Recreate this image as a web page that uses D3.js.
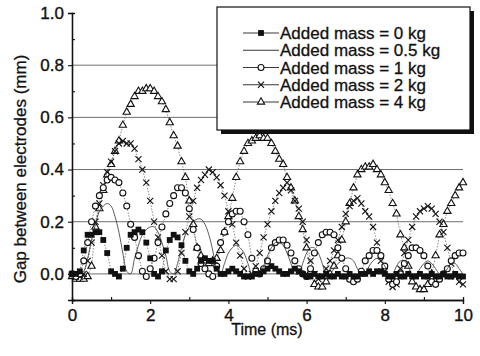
<!DOCTYPE html>
<html>
<head>
<meta charset="utf-8">
<script src="https://cdn.jsdelivr.net/npm/d3@7"></script>
<style>
  body { margin: 0; background: #fff; }
  svg { display: block; font-family: "Liberation Sans", Arial, sans-serif; }
</style>
</head>
<body>
<div id="chart"></div>
<script>
// time samples (ms), shared by all series
const times = [
    0, 0.1, 0.2, 0.3, 0.4, 0.5, 0.6, 0.7, 0.8, 0.9,
    1, 1.1, 1.2, 1.3, 1.4, 1.5, 1.6, 1.7, 1.8, 1.9,
    2, 2.1, 2.2, 2.3, 2.4, 2.5, 2.6, 2.7, 2.8, 2.9,
    3, 3.1, 3.2, 3.3, 3.4, 3.5, 3.6, 3.7, 3.8, 3.9,
    4, 4.1, 4.2, 4.3, 4.4, 4.5, 4.6, 4.7, 4.8, 4.9,
    5, 5.1, 5.2, 5.3, 5.4, 5.5, 5.6, 5.7, 5.8, 5.9,
    6, 6.1, 6.2, 6.3, 6.4, 6.5, 6.6, 6.7, 6.8, 6.9,
    7, 7.1, 7.2, 7.3, 7.4, 7.5, 7.6, 7.7, 7.8, 7.9,
    8, 8.1, 8.2, 8.3, 8.4, 8.5, 8.6, 8.7, 8.8, 8.9,
    9, 9.1, 9.2, 9.3, 9.4, 9.5, 9.6, 9.7, 9.8, 9.9,
    10
];

// gap (mm) for each added mass
const mass0 = [
    0.00, 0.00, 0.01, 0.09, 0.15, 0.15, 0.16, 0.16, 0.13, 0.08,
    0.01, 0.00, -0.01, 0.02, 0.10, 0.15, 0.16, 0.17, 0.16, 0.12,
    0.06, 0.00, -0.01, 0.01, 0.09, 0.13, 0.15, 0.14, 0.11, 0.05,
    0.01, 0.00, 0.02, 0.05, 0.06, 0.05, 0.05, 0.02, 0.00, 0.00,
    0.01, 0.02, 0.01, 0.00, -0.01, -0.01, -0.01, 0.00, 0.00, 0.01,
    0.02, 0.03, 0.02, 0.01, 0.00, 0.00, 0.01, 0.02, 0.01, 0.00,
    -0.01, -0.01, 0.00, -0.01, -0.01, 0.00, -0.01, -0.01, 0.00, -0.01,
    -0.01, 0.00, -0.01, -0.01, 0.00, 0.00, 0.01, 0.00, 0.01, 0.01,
    0.00, -0.01, -0.01, 0.00, -0.01, -0.01, 0.00, -0.01, -0.01, 0.00,
    -0.01, -0.01, 0.00, -0.01, -0.01, 0.00, -0.01, -0.01, 0.00, -0.01,
    -0.01
];
const mass05 = [
    0.00, 0.00, 0.00, 0.01, 0.06, 0.13, 0.19, 0.24, 0.26, 0.27,
    0.26, 0.22, 0.16, 0.08, 0.01, 0.00, 0.06, 0.11, 0.15, 0.17,
    0.18, 0.18, 0.16, 0.12, 0.07, 0.01, 0.00, 0.04, 0.10, 0.15,
    0.18, 0.20, 0.21, 0.21, 0.19, 0.15, 0.09, 0.02, 0.00, 0.04,
    0.08, 0.10, 0.11, 0.10, 0.08, 0.04, 0.00, 0.00, 0.00, 0.03,
    0.07, 0.10, 0.12, 0.12, 0.11, 0.08, 0.04, 0.00, 0.00, 0.04,
    0.08, 0.10, 0.10, 0.08, 0.04, 0.00, 0.00, 0.02, 0.04, 0.05,
    0.06, 0.06, 0.05, 0.02, 0.00, 0.00, 0.03, 0.05, 0.06, 0.05,
    0.03, 0.00, 0.00, 0.03, 0.05, 0.05, 0.03, 0.00, 0.00, 0.02,
    0.04, 0.05, 0.04, 0.02, 0.00, 0.00, 0.02, 0.04, 0.04, 0.02,
    0.00
];
const mass1 = [
    0.00, -0.01, 0.00, 0.05, 0.12, 0.20, 0.26, 0.30, 0.33, 0.36,
    0.37, 0.36, 0.35, 0.31, 0.26, 0.19, 0.14, 0.07, 0.01, -0.01,
    0.02, 0.06, 0.12, 0.18, 0.23, 0.27, 0.30, 0.33, 0.33, 0.31,
    0.25, 0.17, 0.10, 0.04, 0.02, 0.00, -0.01, 0.03, 0.12, 0.16,
    0.20, 0.23, 0.24, 0.24, 0.20, 0.15, 0.06, 0.01, 0.00, 0.02,
    0.05, 0.10, 0.12, 0.13, 0.13, 0.11, 0.08, 0.05, 0.02, 0.00,
    -0.01, 0.02, 0.08, 0.12, 0.15, 0.16, 0.16, 0.15, 0.10, 0.06,
    0.02, -0.02, -0.03, -0.02, 0.01, 0.05, 0.07, 0.09, 0.09, 0.07,
    0.03, -0.02, -0.04, -0.03, 0.00, 0.04, 0.07, 0.10, 0.10, 0.09,
    0.07, 0.03, -0.03, -0.04, -0.02, 0.00, 0.02, 0.05, 0.07, 0.08,
    0.08
];
const mass2 = [
    0.00, -0.01, -0.01, 0.00, 0.05, 0.12, 0.20, 0.27, 0.34, 0.39,
    0.43, 0.47, 0.50, 0.51, 0.50, 0.50, 0.48, 0.44, 0.40, 0.35,
    0.28, 0.20, 0.14, 0.07, 0.01, -0.02, -0.02, 0.01, 0.08, 0.16,
    0.22, 0.28, 0.33, 0.36, 0.38, 0.40, 0.39, 0.37, 0.34, 0.30,
    0.24, 0.19, 0.12, 0.07, 0.02, -0.01, 0.00, 0.03, 0.08, 0.14,
    0.19, 0.24, 0.28, 0.31, 0.33, 0.35, 0.32, 0.28, 0.25, 0.20,
    0.13, 0.05, 0.00, -0.02, -0.01, 0.02, 0.05, 0.09, 0.13, 0.18,
    0.23, 0.26, 0.28, 0.29, 0.27, 0.24, 0.22, 0.18, 0.12, 0.05,
    0.01, -0.03, -0.05, -0.04, 0.02, 0.08, 0.13, 0.18, 0.22, 0.24,
    0.25, 0.26, 0.25, 0.23, 0.20, 0.16, 0.10, 0.04, -0.01, -0.03,
    -0.04
];
const mass4 = [
    -0.01, -0.02, -0.02, -0.02, -0.01, 0.03, 0.18, 0.25, 0.32, 0.38,
    0.42, 0.47, 0.51, 0.57, 0.62, 0.65, 0.68, 0.70, 0.70, 0.71,
    0.71, 0.70, 0.68, 0.66, 0.63, 0.58, 0.53, 0.49, 0.43, 0.37,
    0.28, 0.19, 0.10, 0.07, 0.05, 0.04, 0.05, 0.06, 0.09, 0.16,
    0.22, 0.29, 0.37, 0.43, 0.47, 0.50, 0.51, 0.52, 0.53, 0.52,
    0.52, 0.50, 0.47, 0.44, 0.42, 0.37, 0.33, 0.28, 0.22, 0.17,
    0.10, 0.01, -0.04, -0.05, -0.05, -0.03, 0.00, 0.03, 0.07, 0.13,
    0.20, 0.27, 0.33, 0.38, 0.40, 0.41, 0.41, 0.42, 0.40, 0.38,
    0.35, 0.32, 0.27, 0.23, 0.15, 0.10, 0.03, -0.03, -0.05, -0.06,
    -0.06, -0.04, 0.00, 0.07, 0.15, 0.19, 0.24, 0.27, 0.30, 0.33,
    0.35
];

const legendLabels = [
    "Added mass = 0 kg",
    "Added mass = 0.5 kg",
    "Added mass = 1 kg",
    "Added mass = 2 kg",
    "Added mass = 4 kg"
];
const xTicks = [0, 2, 4, 6, 8, 10];
const xMinor = [1, 3, 5, 7, 9];
const yTicks = [0.0, 0.2, 0.4, 0.6, 0.8, 1.0];
const yMinor = [-0.1, 0.1, 0.3, 0.5, 0.7, 0.9];
const gridValues = [0.0, 0.2, 0.4, 0.6, 0.8];

const width = 480,
    height = 356,
    ink = "#111";

const svg = d3
    .select("#chart")
    .append("svg")
    .attr("width", width)
    .attr("height", height);

svg.append("rect").attr("width", width).attr("height", height).attr("fill", "#fff");

const x = d3.scaleLinear().domain([0, 10]).range([72, 463]);
const y = d3.scaleLinear().domain([-0.1, 1.0]).range([300, 13]);

// horizontal grid
svg.append("g")
    .selectAll("line")
    .data(gridValues)
    .join("line")
    .attr("x1", x(0))
    .attr("x2", x(10))
    .attr("y1", (d) => y(d))
    .attr("y2", (d) => y(d))
    .attr("stroke", "#6e6e6e")
    .attr("stroke-width", 1);

// axes: major ticks outward with labels, minor ticks inward
svg.append("g")
    .attr("transform", `translate(0,${y(-0.1)})`)
    .call(d3.axisBottom(x).tickValues(xTicks).tickFormat(d3.format("d")).tickSize(4).tickPadding(5));
svg.append("g")
    .attr("transform", `translate(0,${y(-0.1)})`)
    .call(d3.axisBottom(x).tickValues(xMinor).tickFormat("").tickSize(-3));

svg.append("g")
    .attr("transform", `translate(${x(0)},0)`)
    .call(d3.axisLeft(y).tickValues(yTicks).tickFormat(d3.format(".1f")).tickSize(4).tickPadding(4));
svg.append("g")
    .attr("transform", `translate(${x(0)},0)`)
    .call(d3.axisLeft(y).tickValues(yMinor).tickFormat("").tickSize(-3));

svg.selectAll(".domain").attr("stroke", ink).attr("stroke-width", 1.3);
svg.selectAll(".tick line").attr("stroke", ink).attr("stroke-width", 1.1);
svg.selectAll(".tick text")
    .attr("font-size", 17)
    .attr("fill", ink)
    .attr("stroke", ink)
    .attr("stroke-width", 0.35)
    .attr("font-family", "'Liberation Sans', Arial, sans-serif");

svg.append("text")
    .attr("x", 267)
    .attr("y", 335)
    .attr("text-anchor", "middle")
    .attr("font-size", 16)
    .attr("fill", ink)
    .attr("stroke", ink)
    .attr("stroke-width", 0.3)
    .text("Time (ms)");

svg.append("text")
    .attr("transform", "translate(26,169) rotate(-90)")
    .attr("text-anchor", "middle")
    .attr("font-size", 17)
    .attr("fill", ink)
    .attr("stroke", ink)
    .attr("stroke-width", 0.3)
    .text("Gap between electrodes (mm)");

// series
const series = [
    { label: legendLabels[4], values: mass4, symbol: d3.symbolTriangle2, size: 38, fill: "#fff" },
    { label: legendLabels[3], values: mass2, symbol: d3.symbolX, size: 26, fill: "none" },
    { label: legendLabels[2], values: mass1, symbol: d3.symbolCircle, size: 28, fill: "#fff" },
    { label: legendLabels[1], values: mass05, symbol: null },
    { label: legendLabels[0], values: mass0, symbol: d3.symbolSquare, size: 34, fill: ink }
];

const line = d3
    .line()
    .x((d, i) => x(times[i]))
    .y((d) => y(d));

const plot = svg.append("g");

for (let s of series) {
    if (s.symbol == null) {
        plot.append("path")
            .attr("d", line.curve(d3.curveCatmullRom)(s.values))
            .attr("fill", "none")
            .attr("stroke", "#333")
            .attr("stroke-width", 0.8);
        line.curve(d3.curveLinear);
        continue;
    }
    plot.append("path")
        .attr("d", line(s.values))
        .attr("fill", "none")
        .attr("stroke", "#555")
        .attr("stroke-width", 0.7)
        .attr("stroke-dasharray", "1.5,1.5");
    plot.append("g")
        .selectAll("path")
        .data(s.values)
        .join("path")
        .attr("transform", (d, i) => `translate(${x(times[i])},${y(d)})`)
        .attr("d", d3.symbol(s.symbol, s.size))
        .attr("fill", s.fill)
        .attr("stroke", ink)
        .attr("stroke-width", s.symbol === d3.symbolSquare ? 0 : 1.1);
}

// legend with drop shadow
const legend = svg.append("g");
legend.append("rect")
    .attr("x", 221).attr("y", 11).attr("width", 253).attr("height", 123)
    .attr("fill", ink);
legend.append("rect")
    .attr("x", 217).attr("y", 7).attr("width", 253).attr("height", 123)
    .attr("fill", "#fff").attr("stroke", ink).attr("stroke-width", 1.2);

const legendOrder = [series[4], series[3], series[2], series[1], series[0]];
const legendY = d3.scalePoint().domain(legendLabels).range([33, 102]);

legendOrder.forEach((s) => {
    const ly = legendY(s.label);
    legend.append("line")
        .attr("x1", 243).attr("x2", 279)
        .attr("y1", ly).attr("y2", ly)
        .attr("stroke", "#222").attr("stroke-width", 0.9);
    if (s.symbol) {
        legend.append("path")
            .attr("transform", `translate(261,${ly})`)
            .attr("d", d3.symbol(s.symbol, s.size))
            .attr("fill", s.fill)
            .attr("stroke", ink)
            .attr("stroke-width", s.symbol === d3.symbolSquare ? 0 : 1.1);
    }
    legend.append("text")
        .attr("x", 280)
        .attr("y", ly)
        .attr("dy", "0.36em")
        .attr("font-size", 17)
        .attr("fill", ink)
        .attr("stroke", ink)
        .attr("stroke-width", 0.3)
        .text(s.label);
});
</script>
</body>
</html>
